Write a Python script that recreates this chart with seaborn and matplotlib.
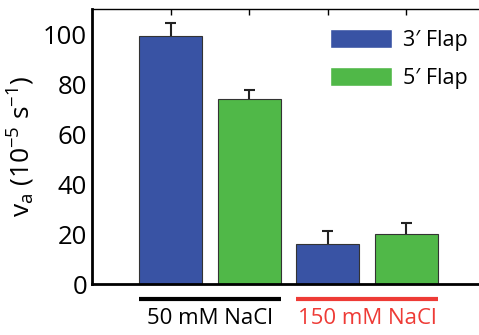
import matplotlib
matplotlib.use("Agg")
import matplotlib.pyplot as plt
import matplotlib.patches as mpatches
import seaborn as sns
import pandas as pd

# values
conditions = ["50 mM NaCl", "50 mM NaCl", "150 mM NaCl", "150 mM NaCl"]
flaps = ["3\u2032 Flap", "5\u2032 Flap", "3\u2032 Flap", "5\u2032 Flap"]
rates = [99.2, 74.0, 16.2, 20.0]
errors = [5.2, 3.5, 5.0, 4.4]
group_labels = ["50 mM NaCl", "150 mM NaCl"]
group_colors = ["black", "#EE3B36"]
flap_colors = {"3\u2032 Flap": "#3953A4", "5\u2032 Flap": "#50B848"}

df = pd.DataFrame({
    "bar": [f"{c} {f}" for c, f in zip(conditions, flaps)],
    "Flap": flaps,
    "rate": rates,
})

sns.set_style("ticks")
plt.rcParams["font.family"] = ["Open Sans", "DejaVu Sans"]
plt.rcParams["mathtext.fontset"] = "custom"
plt.rcParams["mathtext.rm"] = "Open Sans"
plt.rcParams["mathtext.it"] = "Open Sans"
plt.rcParams["text.color"] = "black"
plt.rcParams["axes.labelcolor"] = "black"
plt.rcParams["ytick.color"] = "black"
plt.rcParams["xtick.color"] = "black"

fig = plt.figure(figsize=(4.79, 3.35), dpi=100)
ax = fig.add_axes([0.192, 0.152, 0.82, 0.821])

sns.barplot(data=df, x="bar", y="rate", hue="Flap", palette=flap_colors,
            dodge=False, width=0.8, saturation=1, edgecolor="#333333",
            linewidth=0.8, errorbar=None, legend=False, ax=ax)

# upward-only error bars with a cap on top
xs = list(range(len(rates)))
tops = [r + e for r, e in zip(rates, errors)]
ax.vlines(xs, rates, tops, color="#222222", lw=1.5, zorder=3)
ax.hlines(tops, [x - 0.07 for x in xs], [x + 0.07 for x in xs],
          color="#222222", lw=1.5, zorder=3)

ax.set_xlim(-1, 4)
ax.set_ylim(0, 110)
ax.set_yticks([0, 20, 40, 60, 80, 100])
ax.tick_params(axis="y", labelsize=18.5, length=0, pad=3.5)
ax.set_xticks(xs)
ax.set_xticklabels([])
ax.tick_params(axis="x", bottom=False, top=True, direction="in", length=4,
               width=1, color="black")
ax.set_xlabel("")
ax.set_ylabel(r"v$_\mathrm{a}$ (10$^\mathrm{-5}$ s$^\mathrm{-1}$)", fontsize=19, labelpad=4)

for side in ["left", "bottom"]:
    ax.spines[side].set_linewidth(2)
    ax.spines[side].set_color("black")
ax.spines["top"].set_linewidth(1)
ax.spines["top"].set_color("black")
ax.spines["right"].set_visible(False)

# group underlines and labels
for i, (lab, col) in enumerate(zip(group_labels, group_colors)):
    x0, x1 = 2 * i - 0.4, 2 * i + 1.4
    ax.plot([x0, x1], [-5.8, -5.8], color=col, lw=3, clip_on=False,
            solid_capstyle="butt")
    ax.text(2 * i + 0.5, -13.6, lab, color=col, fontsize=16,
            ha="center", va="center", clip_on=False)

handles = [mpatches.Patch(facecolor=c, label=k) for k, c in flap_colors.items()]
ax.legend(handles=handles, loc="upper right", bbox_to_anchor=(0.99, 0.975),
          frameon=False, fontsize=15.5, handlelength=2.9, handleheight=1.0,
          handletextpad=0.5, labelspacing=0.75, borderaxespad=0.2)

fig.savefig("out.png", dpi=100)
